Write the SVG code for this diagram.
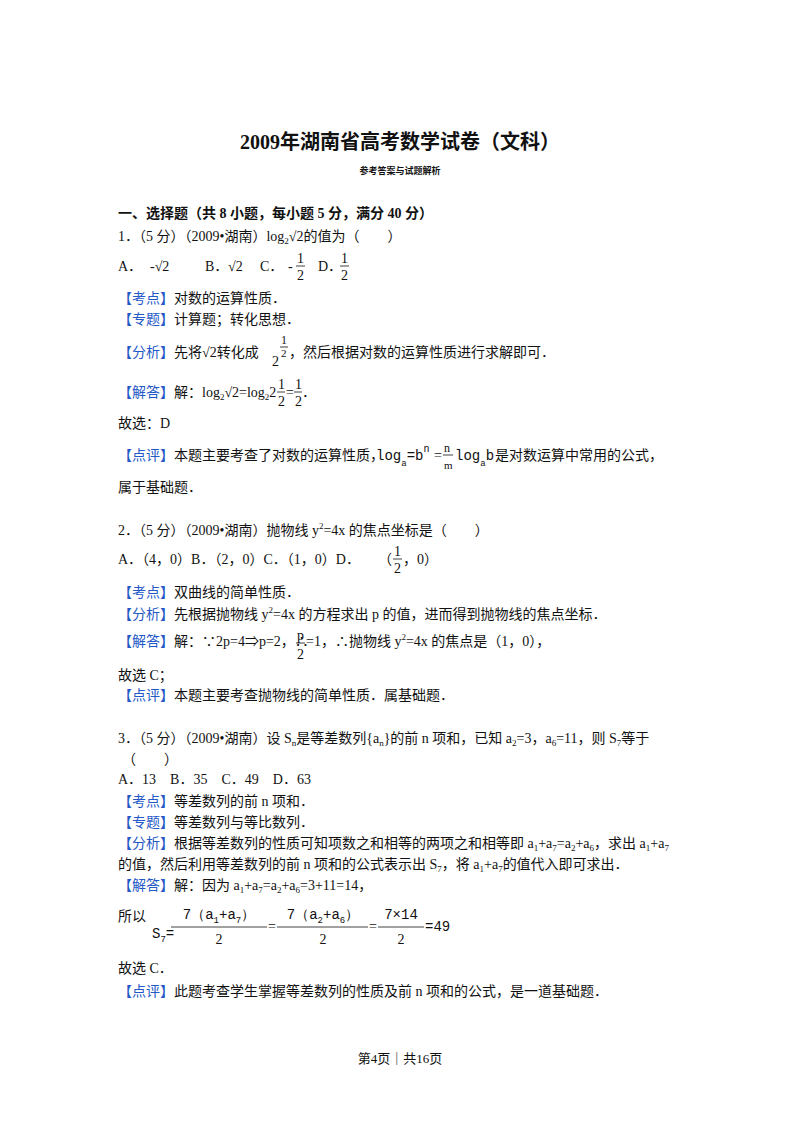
<svg xmlns="http://www.w3.org/2000/svg" width="800" height="1132" viewBox="0 0 800 1132">
<style>
text{font-family:"Liberation Serif","Noto Sans CJK SC",serif;font-size:14px;fill:#111}
.b{fill:#2458c6}
.t{font-weight:bold;font-size:20px}
.s{font-weight:bold;font-size:9px}
.h{font-weight:bold;font-size:14px}
.sm{font-size:9px}
.m{font-family:"Liberation Mono",monospace}
line{stroke:#111;stroke-width:0.8}
</style>
<rect width="800" height="1132" fill="#fff"/>
<text class="t" x="400" y="149" text-anchor="middle">2009年湖南省高考数学试卷（文科）</text>
<text class="s" x="400" y="174" text-anchor="middle">参考答案与试题解析</text>
<text class="h" x="118" y="218">一、选择题（共 8 小题，每小题 5 分，满分 40 分）</text>
<text x="118" y="241">1．（5 分）（2009•湖南）log<tspan class="sm" dy="3">2</tspan><tspan dy="-3">√2的值为（　　）</tspan></text>
<g id="q1opts">
<text x="118" y="271">A．</text><text x="150" y="271">-√2</text>
<text x="205" y="271">B．</text><text x="228" y="271">√2</text>
<text x="260" y="271">C．</text><text x="288" y="271">-</text>
<text x="297" y="263">1</text><line x1="296" y1="266" x2="305" y2="266"/><text x="297" y="280">2</text>
<text x="318" y="271">D．</text>
<text x="341" y="263">1</text><line x1="340" y1="266" x2="349" y2="266"/><text x="341" y="280">2</text>
</g>
<text x="118" y="303"><tspan class="b">【考点】</tspan>对数的运算性质．</text>
<text x="118" y="324"><tspan class="b">【专题】</tspan>计算题；转化思想．</text>
<text x="118" y="357"><tspan class="b">【分析】</tspan>先将√2转化成</text>
<text x="272" y="366">2</text>
<text x="281" y="344" style="font-size:12px">1</text><line x1="280" y1="347" x2="288" y2="347"/><text x="281" y="357" style="font-size:11px">2</text>
<text x="289" y="357">，然后根据对数的运算性质进行求解即可．</text>
<text x="118" y="397"><tspan class="b">【解答】</tspan>解：log<tspan class="sm" dy="3">2</tspan><tspan dy="-3">√2=log</tspan><tspan class="sm" dy="3">2</tspan><tspan dy="-3">2</tspan></text>
<text x="278" y="389">1</text><line x1="277" y1="392" x2="285" y2="392"/><text x="278" y="406">2</text>
<text x="286" y="397">=</text>
<text x="295" y="389">1</text><line x1="294" y1="392" x2="302" y2="392"/><text x="295" y="406">2</text>
<text x="302" y="397">．</text>
<text x="118" y="428">故选：D</text>
<text x="118" y="460"><tspan class="b">【点评】</tspan>本题主要考查了对数的运算性质，</text>
<text x="376" y="460" class="m">log<tspan class="sm" dy="6">a</tspan><tspan dy="-6">=b</tspan><tspan style="font-size:10px" dy="-8">n</tspan></text>
<text x="434" y="460">=</text>
<text x="444" y="452" style="font-size:12px">n</text><line x1="443" y1="455" x2="453" y2="455"/><text x="444" y="469" style="font-size:11px">m</text>
<text x="455" y="460" class="m">log<tspan class="sm" dy="6">a</tspan><tspan dy="-6">b</tspan></text>
<text x="495" y="460">是对数运算中常用的公式，</text>
<text x="118" y="492">属于基础题．</text>
<text x="118" y="535">2．（5 分）（2009•湖南）抛物线 y<tspan class="sm" dy="-6">2</tspan><tspan dy="6">=4x 的焦点坐标是（　　）</tspan></text>
<g id="q2opts">
<text x="118" y="564">A．（4，0）B．（2，0）C．（1，0）D．</text>
<text x="378" y="564">（</text>
<text x="394" y="556">1</text><line x1="393" y1="559" x2="402" y2="559"/><text x="394" y="573">2</text>
<text x="403" y="564">，0）</text>
</g>
<text x="118" y="597"><tspan class="b">【考点】</tspan>双曲线的简单性质．</text>
<text x="118" y="619"><tspan class="b">【分析】</tspan>先根据抛物线 y<tspan class="sm" dy="-6">2</tspan><tspan dy="6">=4x 的方程求出 p 的值，进而得到抛物线的焦点坐标．</tspan></text>
<text x="118" y="646"><tspan class="b">【解答】</tspan>解：∵2p=4⇒p=2，∴</text>
<text x="297" y="640">p</text><line x1="296" y1="643" x2="305" y2="643"/><text x="297" y="659">2</text>
<text x="306" y="646">=1，∴抛物线 y<tspan class="sm" dy="-6">2</tspan><tspan dy="6">=4x 的焦点是（1，0），</tspan></text>
<text x="118" y="680">故选 C；</text>
<text x="118" y="700"><tspan class="b">【点评】</tspan>本题主要考查抛物线的简单性质．属基础题．</text>
<text x="118" y="743">3．（5 分）（2009•湖南）设 S<tspan class="sm" dy="3">n</tspan><tspan dy="-3">是等差数列{a</tspan><tspan class="sm" dy="3">n</tspan><tspan dy="-3">}的前 n 项和，已知 a</tspan><tspan class="sm" dy="3">2</tspan><tspan dy="-3">=3，a</tspan><tspan class="sm" dy="3">6</tspan><tspan dy="-3">=11，则 S</tspan><tspan class="sm" dy="3">7</tspan><tspan dy="-3">等于</tspan></text>
<text x="122" y="764">（　　）</text>
<text x="118" y="784">A．13　B．35　C．49　D．63</text>
<text x="118" y="806"><tspan class="b">【考点】</tspan>等差数列的前 n 项和．</text>
<text x="118" y="827"><tspan class="b">【专题】</tspan>等差数列与等比数列．</text>
<text x="118" y="848"><tspan class="b">【分析】</tspan>根据等差数列的性质可知项数之和相等的两项之和相等即 a<tspan class="sm" dy="3">1</tspan><tspan dy="-3">+a</tspan><tspan class="sm" dy="3">7</tspan><tspan dy="-3">=a</tspan><tspan class="sm" dy="3">2</tspan><tspan dy="-3">+a</tspan><tspan class="sm" dy="3">6</tspan><tspan dy="-3">，求出 a</tspan><tspan class="sm" dy="3">1</tspan><tspan dy="-3">+a</tspan><tspan class="sm" dy="3">7</tspan></text>
<text x="118" y="869">的值，然后利用等差数列的前 n 项和的公式表示出 S<tspan class="sm" dy="3">7</tspan><tspan dy="-3">，将 a</tspan><tspan class="sm" dy="3">1</tspan><tspan dy="-3">+a</tspan><tspan class="sm" dy="3">7</tspan><tspan dy="-3">的值代入即可求出．</tspan></text>
<text x="118" y="890"><tspan class="b">【解答】</tspan>解：因为 a<tspan class="sm" dy="3">1</tspan><tspan dy="-3">+a</tspan><tspan class="sm" dy="3">7</tspan><tspan dy="-3">=a</tspan><tspan class="sm" dy="3">2</tspan><tspan dy="-3">+a</tspan><tspan class="sm" dy="3">6</tspan><tspan dy="-3">=3+11=14，</tspan></text>
<text x="118" y="921">所以</text>
<g id="s7">
<text x="152" y="938" class="m">S<tspan class="sm" dy="4">7</tspan><tspan dy="-4">=</tspan></text>
<line x1="171" y1="927" x2="267" y2="927"/>
<text x="219" y="919" text-anchor="middle" class="m">7（a<tspan class="sm" dy="4">1</tspan><tspan dy="-4">+a</tspan><tspan class="sm" dy="4">7</tspan><tspan dy="-4">）</tspan></text>
<text x="219" y="944" text-anchor="middle">2</text>
<text x="268" y="931">=</text>
<line x1="277" y1="927" x2="368" y2="927"/>
<text x="323" y="919" text-anchor="middle" class="m">7（a<tspan class="sm" dy="4">2</tspan><tspan dy="-4">+a</tspan><tspan class="sm" dy="4">6</tspan><tspan dy="-4">）</tspan></text>
<text x="323" y="944" text-anchor="middle">2</text>
<text x="369" y="931">=</text>
<line x1="378" y1="927" x2="424" y2="927"/>
<text x="401" y="919" text-anchor="middle" class="m">7×14</text>
<text x="401" y="944" text-anchor="middle">2</text>
<text x="425" y="931" class="m">=49</text>
</g>
<text x="118" y="973">故选 C．</text>
<text x="118" y="996"><tspan class="b">【点评】</tspan>此题考查学生掌握等差数列的性质及前 n 项和的公式，是一道基础题．</text>
<text x="400" y="1063" style="font-size:13px" text-anchor="middle">第4页｜共16页</text>
</svg>
